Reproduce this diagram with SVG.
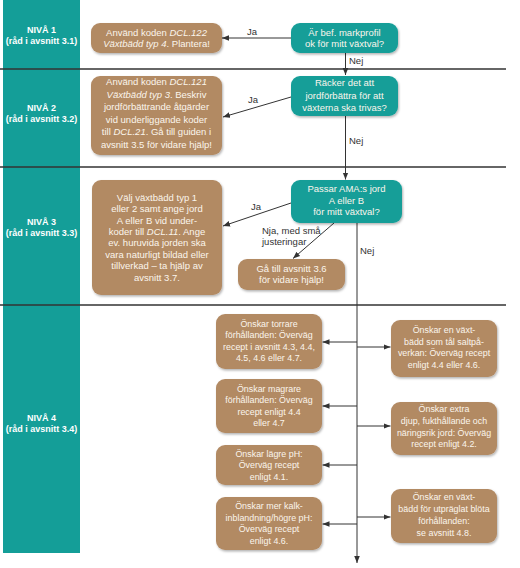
<svg xmlns="http://www.w3.org/2000/svg" width="520" height="568" viewBox="0 0 520 568">
<defs>
<marker id="ah" viewBox="0 0 10 10" refX="10" refY="5" markerWidth="7" markerHeight="7" orient="auto" markerUnits="userSpaceOnUse"><path d="M0,1 L10,5 L0,9 z" fill="#333"/></marker>
<filter id="sh" x="-10%" y="-10%" width="130%" height="140%"><feDropShadow dx="1" dy="1.5" stdDeviation="1.2" flood-color="#000" flood-opacity="0.3"/></filter>
</defs>
<style>
.tan{fill:#b28a64;filter:url(#sh)}
.teal{fill:#149e98;filter:url(#sh)}
.bt{font-family:"Liberation Sans",Arial,sans-serif;font-size:9.5px;fill:#fbf5ec;text-anchor:middle}
.st{font-size:8.9px}
.lab{font-family:"Liberation Sans",Arial,sans-serif;font-size:9.5px;fill:#333}
.sep{stroke:#333;stroke-width:1.3}
.con{stroke:#333;stroke-width:1;fill:none;marker-end:url(#ah)}
.lvl{font-family:"Liberation Sans",Arial,sans-serif;font-weight:bold;font-size:9px;fill:#fff;text-anchor:middle}
.it{font-style:italic}
</style>
<rect x="3" y="0" width="77" height="553" fill="#149e98"/>
<g id="separators">
<line class="sep" x1="0" y1="69" x2="506" y2="69"/>
<line class="sep" x1="0" y1="167" x2="506" y2="167"/>
<line class="sep" x1="0" y1="305" x2="506" y2="305"/>
</g>
<g id="levels">
<text class="lvl" x="41.5" y="33">NIVÅ 1</text>
<text class="lvl" x="41.5" y="44">(råd i avsnitt 3.1)</text>
<text class="lvl" x="41.5" y="111">NIVÅ 2</text>
<text class="lvl" x="41.5" y="122">(råd i avsnitt 3.2)</text>
<text class="lvl" x="41.5" y="225">NIVÅ 3</text>
<text class="lvl" x="41.5" y="236">(råd i avsnitt 3.3)</text>
<text class="lvl" x="41.5" y="421">NIVÅ 4</text>
<text class="lvl" x="41.5" y="432">(råd i avsnitt 3.4)</text>
</g>
<g id="connectors">
<line class="con" x1="291" y1="38" x2="222" y2="38"/>
<line class="con" x1="345.5" y1="53" x2="345.5" y2="75"/>
<line class="con" x1="291" y1="97" x2="223" y2="117"/>
<line class="con" x1="345.5" y1="116" x2="345.5" y2="179.5"/>
<line class="con" x1="291" y1="203" x2="223" y2="226"/>
<line class="con" x1="334" y1="223" x2="293" y2="258.5"/>
<line class="con" x1="357" y1="223" x2="357" y2="563"/>
<line class="con" x1="357" y1="342" x2="322.5" y2="342"/>
<line class="con" x1="357" y1="406" x2="322.5" y2="406"/>
<line class="con" x1="357" y1="465" x2="322.5" y2="465"/>
<line class="con" x1="357" y1="524" x2="322.5" y2="524"/>
<line class="con" x1="357" y1="347" x2="390.5" y2="347"/>
<line class="con" x1="357" y1="426" x2="390.5" y2="426"/>
<line class="con" x1="357" y1="517" x2="390.5" y2="517"/>
<text class="lab" x="247" y="35">Ja</text>
<text class="lab" x="248" y="103">Ja</text>
<text class="lab" x="251" y="210">Ja</text>
<text class="lab" x="349" y="64">Nej</text>
<text class="lab" x="349" y="144">Nej</text>
<text class="lab" x="360" y="254">Nej</text>
<text class="lab" x="262" y="234">Nja, med små</text>
<text class="lab" x="262" y="245">justeringar</text>
</g>
<g id="q1">
<rect class="teal" x="291" y="23" width="107" height="30" rx="9"/>
<text class="bt" x="344.5" y="35.7">Är bef. markprofil</text>
<text class="bt" x="344.5" y="47.1">ok för mitt växtval?</text>
</g>
<g id="a1">
<rect class="tan" x="91" y="23" width="131" height="30" rx="9"/>
<text class="bt" x="156.5" y="35.7">Använd koden <tspan class="it">DCL.122</tspan></text>
<text class="bt" x="156.5" y="47.1"><tspan class="it">Växtbädd typ 4</tspan>. Plantera!</text>
</g>
<g id="q2">
<rect class="teal" x="291" y="76" width="107" height="40" rx="9"/>
<text class="bt" x="344.5" y="86.2">Räcker det att</text>
<text class="bt" x="344.5" y="98.5">jordförbättra för att</text>
<text class="bt" x="344.5" y="110.8">växterna ska trivas?</text>
</g>
<g id="a2">
<rect class="tan" x="91" y="76" width="131" height="79" rx="9"/>
<text class="bt" x="156.5" y="85.4">Använd koden <tspan class="it">DCL.121</tspan></text>
<text class="bt" x="156.5" y="97.9"><tspan class="it">Växtbädd typ 3</tspan>. Beskriv</text>
<text class="bt" x="156.5" y="110.4">jordförbättrande åtgärder</text>
<text class="bt" x="156.5" y="122.9">vid underliggande koder</text>
<text class="bt" x="156.5" y="135.4">till <tspan class="it">DCL.21</tspan>. Gå till guiden i</text>
<text class="bt" x="156.5" y="147.9">avsnitt 3.5 för vidare hjälp!</text>
</g>
<g id="q3">
<rect class="teal" x="291" y="180" width="111" height="43" rx="9"/>
<text class="bt" x="346.5" y="192.4">Passar AMA:s jord</text>
<text class="bt" x="346.5" y="203.9">A eller B</text>
<text class="bt" x="346.5" y="215.4">för mitt växtval?</text>
</g>
<g id="a3">
<rect class="tan" x="92" y="180" width="130" height="115" rx="9"/>
<text class="bt" x="157" y="200.7">Välj växtbädd typ 1</text>
<text class="bt" x="157" y="212.1">eller 2 samt ange jord</text>
<text class="bt" x="157" y="223.5">A eller B vid under-</text>
<text class="bt" x="157" y="234.9">koder till <tspan class="it">DCL.11</tspan>. Ange</text>
<text class="bt" x="157" y="246.3">ev. huruvida jorden ska</text>
<text class="bt" x="157" y="257.7">vara naturligt bildad eller</text>
<text class="bt" x="157" y="269.1">tillverkad – ta hjälp av</text>
<text class="bt" x="157" y="280.5">avsnitt 3.7.</text>
</g>
<g id="n3">
<rect class="tan" x="238" y="259" width="107" height="31" rx="9"/>
<text class="bt" x="291.5" y="271.9">Gå till avsnitt 3.6</text>
<text class="bt" x="291.5" y="283.4">för vidare hjälp!</text>
</g>
<g id="l4a">
<rect class="tan" x="216" y="314" width="106" height="55" rx="9"/>
<text class="bt st" x="269" y="327.2">Önskar torrare</text>
<text class="bt st" x="269" y="338.4">förhållanden: Överväg</text>
<text class="bt st" x="269" y="349.6">recept i avsnitt 4.3, 4.4,</text>
<text class="bt st" x="269" y="360.8">4.5, 4.6 eller 4.7.</text>
</g>
<g id="l4b">
<rect class="tan" x="216" y="379" width="106" height="54" rx="9"/>
<text class="bt st" x="269" y="391.7">Önskar magrare</text>
<text class="bt st" x="269" y="403.2">förhållanden: Överväg</text>
<text class="bt st" x="269" y="414.7">recept enligt 4.4</text>
<text class="bt st" x="269" y="426.2">eller 4.7</text>
</g>
<g id="l4c">
<rect class="tan" x="216" y="445" width="106" height="40" rx="9"/>
<text class="bt st" x="269" y="456.7">Önskar lägre pH:</text>
<text class="bt st" x="269" y="468.2">Överväg recept</text>
<text class="bt st" x="269" y="479.7">enligt 4.1.</text>
</g>
<g id="l4d">
<rect class="tan" x="216" y="497" width="106" height="53" rx="9"/>
<text class="bt st" x="269" y="509.2">Önskar mer kalk-</text>
<text class="bt st" x="269" y="520.7">inblandning/högre pH:</text>
<text class="bt st" x="269" y="532.2">Överväg recept</text>
<text class="bt st" x="269" y="543.7">enligt 4.6.</text>
</g>
<g id="r4a">
<rect class="tan" x="391" y="320" width="106" height="57" rx="9"/>
<text class="bt st" x="444" y="333.2">Önskar en växt-</text>
<text class="bt st" x="444" y="344.7">bädd som tål saltpå-</text>
<text class="bt st" x="444" y="356.2">verkan: Överväg recept</text>
<text class="bt st" x="444" y="367.7">enligt 4.4 eller 4.6.</text>
</g>
<g id="r4b">
<rect class="tan" x="391" y="402" width="106" height="53" rx="9"/>
<text class="bt st" x="444" y="412.2">Önskar extra</text>
<text class="bt st" x="444" y="423.9">djup, fukthållande och</text>
<text class="bt st" x="444" y="435.5">näringsrik jord: Överväg</text>
<text class="bt st" x="444" y="447.2">recept enligt 4.2.</text>
</g>
<g id="r4c">
<rect class="tan" x="391" y="489" width="106" height="54" rx="9"/>
<text class="bt st" x="444" y="500.2">Önskar en växt-</text>
<text class="bt st" x="444" y="512.2">bädd för utpräglat blöta</text>
<text class="bt st" x="444" y="524.2">förhållanden:</text>
<text class="bt st" x="444" y="536.2">se avsnitt 4.8.</text>
</g>
</svg>
